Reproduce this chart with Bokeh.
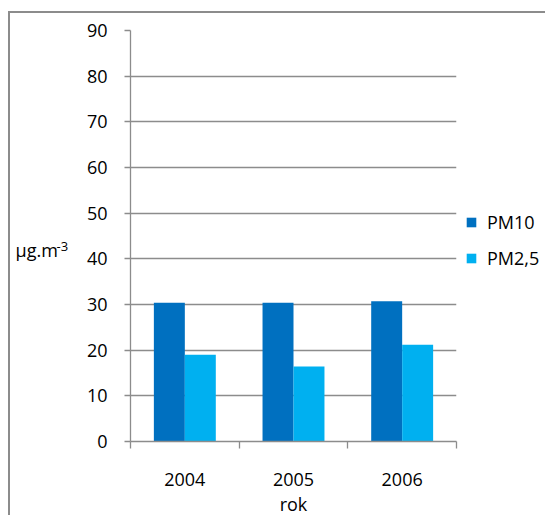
from bokeh.plotting import figure
from bokeh.models import ColumnDataSource, FixedTicker, Legend, LegendItem, Label, Range1d
from bokeh.transform import dodge
from bokeh.embed import file_html
from bokeh.resources import INLINE

# ---- data ----
years = ["2004", "2005", "2006"]
pm10 = [30.4, 30.4, 30.7]
pm25 = [19.0, 16.4, 21.2]
series_names = ["PM10", "PM2,5"]
y_ticks = [0, 10, 20, 30, 40, 50, 60, 70, 80, 90]
y_unit = "µg.m"
y_unit_sup = "-3"
x_title = "rok"

# ---- style ----
COLORS = ["#0070C0", "#00B0F0"]
FONT = "Open Sans"
GRID = "#8c8c8c"
FS = "18px"
BAR_W = 0.285

pos = [i + 0.5 for i in range(len(years))]
src = ColumnDataSource(dict(x=pos, pm10=pm10, pm25=pm25))

p = figure(frame_width=326, frame_height=411,
           min_border_left=120, min_border_right=87,
           min_border_top=17, min_border_bottom=74,
           x_range=Range1d(0, len(years)), y_range=Range1d(y_ticks[0], y_ticks[-1]),
           output_backend="svg", toolbar_location=None)
p.margin = (11, 0, 0, 8)
p.styles = {"border-left": "2px solid #8c8c8c", "border-top": "2px solid #8c8c8c"}
p.outline_line_color = None
p.background_fill_color = "white"
p.border_fill_color = "white"

# grid
p.xgrid.visible = False
p.ygrid.grid_line_color = GRID
p.ygrid.grid_line_width = 1.3

# y axis
ya = p.yaxis[0]
ya.ticker = FixedTicker(ticks=y_ticks)
ya.axis_line_color = GRID
ya.axis_line_width = 1.3
ya.major_tick_line_color = GRID
ya.major_tick_line_width = 1.3
ya.major_tick_out = 6
ya.major_tick_in = 0
ya.minor_tick_line_color = None
ya.major_label_text_font = FONT
ya.major_label_text_font_size = FS
ya.major_label_text_color = "black"
ya.major_label_standoff = 17

# x axis
xa = p.xaxis[0]
xa.ticker = FixedTicker(ticks=pos, minor_ticks=list(range(len(years) + 1)))
xa.major_label_overrides = {x: y for x, y in zip(pos, years)}
xa.axis_line_color = GRID
xa.axis_line_width = 1.3
xa.major_tick_line_color = None
xa.major_tick_out = 0
xa.major_tick_in = 0
xa.minor_tick_line_color = GRID
xa.minor_tick_line_width = 1.3
xa.minor_tick_out = 7
xa.minor_tick_in = 0
xa.major_label_text_font = FONT
xa.major_label_text_font_size = FS
xa.major_label_text_color = "black"
xa.major_label_standoff = 24
xa.axis_label = x_title
xa.axis_label_text_font = FONT
xa.axis_label_text_font_size = FS
xa.axis_label_text_font_style = "normal"
xa.axis_label_text_color = "black"
xa.axis_label_standoff = 3

# bars
r1 = p.vbar(x=dodge("x", -BAR_W / 2, range=p.x_range), top="pm10", width=BAR_W,
            source=src, fill_color=COLORS[0], line_color=None)
r2 = p.vbar(x=dodge("x", BAR_W / 2, range=p.x_range), top="pm25", width=BAR_W,
            source=src, fill_color=COLORS[1], line_color=None)

legend = Legend(items=[LegendItem(label=series_names[0], renderers=[r1]),
                       LegendItem(label=series_names[1], renderers=[r2])],
                location=(9, 171), glyph_width=12, glyph_height=12,
                label_height=12, label_standoff=10, spacing=12, padding=0, margin=0,
                border_line_color=None, background_fill_alpha=0,
                label_text_font=FONT, label_text_font_size=FS,
                label_text_color="black")
p.add_layout(legend, "right")

lab = Label(x=-26, y=192, x_units="screen", y_units="screen", text=y_unit,
            text_font=FONT, text_font_size=FS, text_color="black",
            text_baseline="alphabetic")
sup = Label(x=27, y=195, x_units="screen", y_units="screen", text=y_unit_sup,
            text_font=FONT, text_font_size="13px", text_color="black",
            text_baseline="alphabetic")
p.add_layout(lab, "left")
p.add_layout(sup, "left")

open("out.html", "w").write(file_html(p, INLINE))
